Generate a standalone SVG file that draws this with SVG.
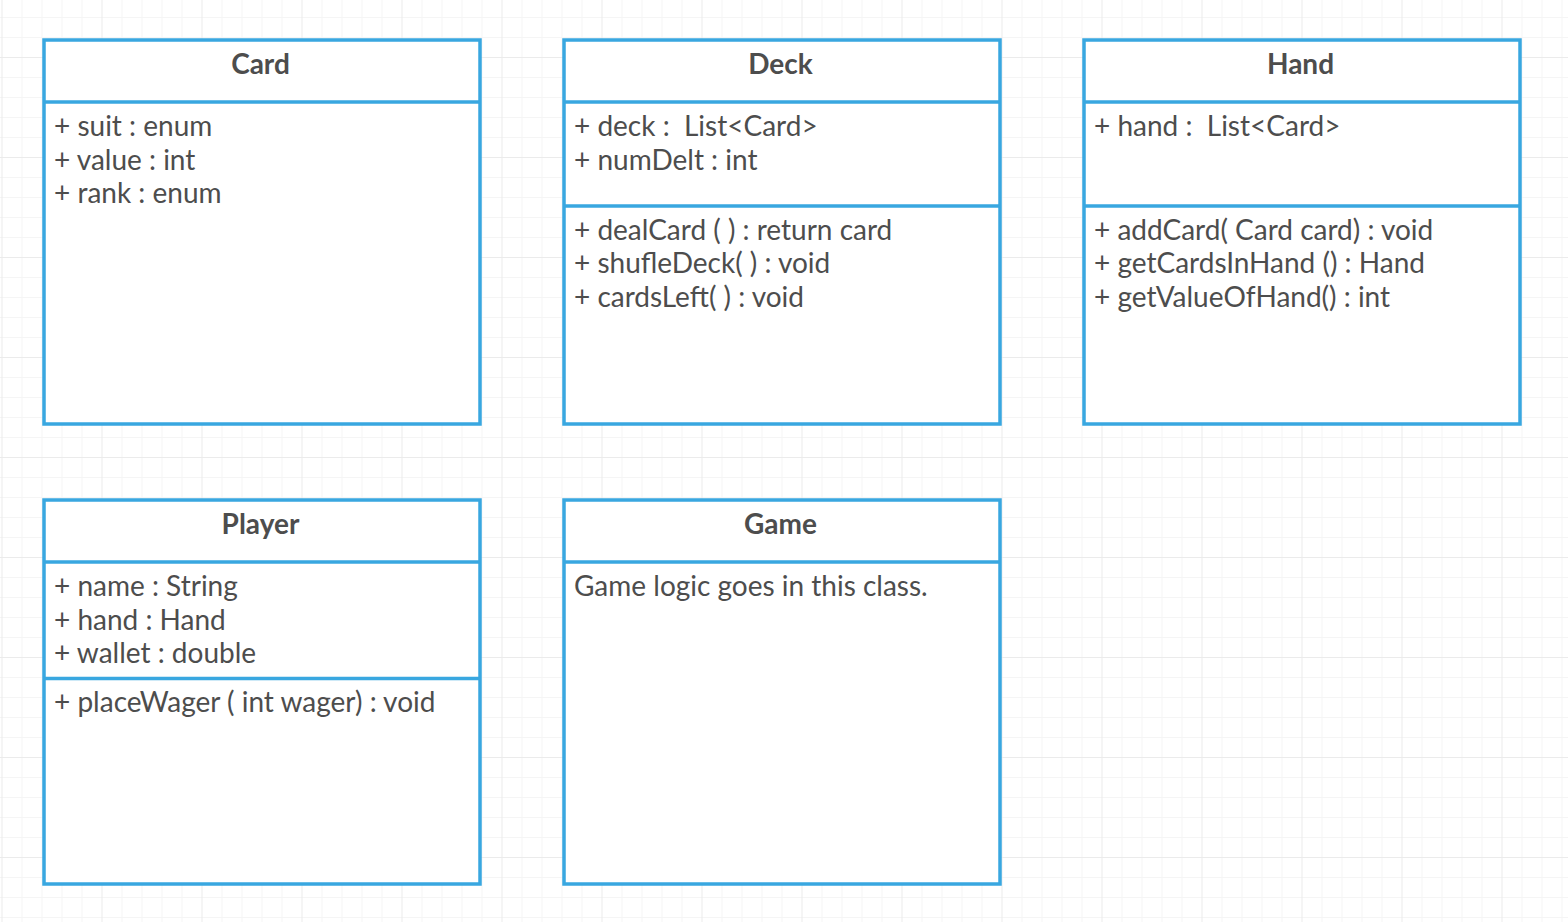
<svg xmlns="http://www.w3.org/2000/svg" width="1568" height="922" viewBox="0 0 1568 922">
<style>
.box{fill:#ffffff;stroke:#39a7e0;stroke-width:3.5}
.div{stroke:#39a7e0;stroke-width:3.5}
.t{font-family:Lato,"Liberation Sans",sans-serif;font-weight:bold;font-size:28px;fill:#4d4d4d;text-anchor:middle}
.b{font-family:Lato,"Liberation Sans",sans-serif;font-size:28px;fill:#4d4d4d}
</style>
<defs>
<pattern id="grid" patternUnits="userSpaceOnUse" x="1.5" y="17" width="100" height="100">
<rect x="0" y="0" width="100" height="100" fill="#ffffff"/>
<g fill="#f5f5f5">
<rect x="20" y="0" width="1" height="100"/>
<rect x="40" y="0" width="1" height="100"/>
<rect x="60" y="0" width="1" height="100"/>
<rect x="80" y="0" width="1" height="100"/>
<rect x="0" y="0" width="100" height="1"/>
<rect x="0" y="20" width="100" height="1"/>
<rect x="0" y="60" width="100" height="1"/>
<rect x="0" y="80" width="100" height="1"/>
</g>
<g fill="#ebebeb">
<rect x="0" y="0" width="1" height="100"/>
<rect x="0" y="40" width="100" height="1"/>
</g>
</pattern>
</defs>
<rect x="0" y="0" width="1568" height="922" fill="url(#grid)"/>
<g id="connectors"/>
<g id="card">
<rect class="box" x="44" y="40" width="436" height="384"/>
<line class="div" x1="44" y1="102" x2="480" y2="102"/>
<text class="t" x="260.5" y="74">Card</text>
<text class="b" x="54" y="136">+ suit : enum</text>
<text class="b" x="54" y="169.5">+ value : int</text>
<text class="b" x="54" y="203">+ rank : enum</text>
</g>
<g id="deck">
<rect class="box" x="564" y="40" width="436" height="384"/>
<line class="div" x1="564" y1="102" x2="1000" y2="102"/>
<line class="div" x1="564" y1="206" x2="1000" y2="206"/>
<text class="t" x="780.5" y="74">Deck</text>
<text class="b" x="574" y="136" xml:space="preserve">+ deck :  List&lt;Card&gt;</text>
<text class="b" x="574" y="169.5">+ numDelt : int</text>
<text class="b" x="574" y="239.5">+ dealCard ( ) : return card</text>
<text class="b" x="574" y="273">+ shufleDeck( ) : void</text>
<text class="b" x="574" y="306.5">+ cardsLeft( ) : void</text>
</g>
<g id="hand">
<rect class="box" x="1084" y="40" width="436" height="384"/>
<line class="div" x1="1084" y1="102" x2="1520" y2="102"/>
<line class="div" x1="1084" y1="206" x2="1520" y2="206"/>
<text class="t" x="1300.5" y="74">Hand</text>
<text class="b" x="1094" y="136" xml:space="preserve">+ hand :  List&lt;Card&gt;</text>
<text class="b" x="1094" y="239.5">+ addCard( Card card) : void</text>
<text class="b" x="1094" y="273">+ getCardsInHand () : Hand</text>
<text class="b" x="1094" y="306.5">+ getValueOfHand() : int</text>
</g>
<g id="player">
<rect class="box" x="44" y="500" width="436" height="384"/>
<line class="div" x1="44" y1="562" x2="480" y2="562"/>
<line class="div" x1="44" y1="678.5" x2="480" y2="678.5"/>
<text class="t" x="260.5" y="534">Player</text>
<text class="b" x="54" y="596">+ name : String</text>
<text class="b" x="54" y="629.5">+ hand : Hand</text>
<text class="b" x="54" y="663">+ wallet : double</text>
<text class="b" x="54" y="712">+ placeWager ( int wager) : void</text>
</g>
<g id="game">
<rect class="box" x="564" y="500" width="436" height="384"/>
<line class="div" x1="564" y1="562" x2="1000" y2="562"/>
<text class="t" x="780.5" y="534">Game</text>
<text class="b" x="574" y="596">Game logic goes in this class.</text>
</g>
</svg>
